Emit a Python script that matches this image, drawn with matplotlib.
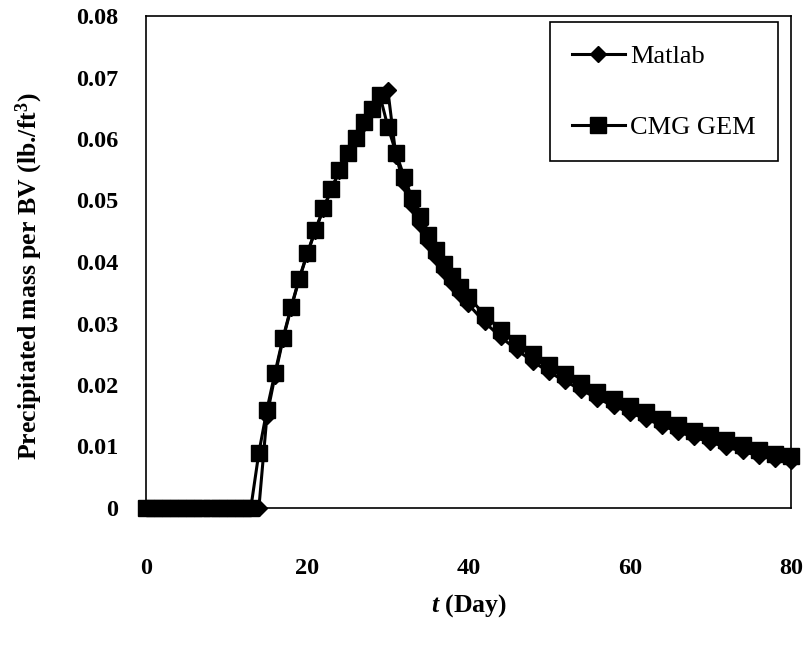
import matplotlib
matplotlib.use('Agg')
import matplotlib.pyplot as plt

plt.rcParams['font.family'] = ['Liberation Serif', 'DejaVu Serif']
plt.rcParams['mathtext.fontset'] = 'custom'
plt.rcParams['mathtext.it'] = 'Liberation Serif:italic:bold'
plt.rcParams['mathtext.rm'] = 'Liberation Serif:bold'

# time points (day): daily up to 40, then every 2 days
days = list(range(0, 41)) + list(range(42, 81, 2))

matlab = [0] * 15 + [
    0.0150, 0.0215, 0.0275, 0.0325, 0.0372, 0.0413, 0.0451, 0.0486,
    0.0518, 0.0548, 0.0577, 0.0601, 0.0626, 0.0648, 0.0668, 0.0679,
    0.0572, 0.0528, 0.0492, 0.0462, 0.0433, 0.0408, 0.0386, 0.0366,
    0.0348, 0.0331,
    0.0302, 0.0278, 0.0257, 0.0238, 0.0221, 0.0206, 0.0192, 0.0178,
    0.0166, 0.0155, 0.0145, 0.0134, 0.0124, 0.0115, 0.0107, 0.0099,
    0.0092, 0.0085, 0.0080, 0.0076]

cmg = [0] * 14 + [
    0.0090, 0.0160, 0.0220, 0.0277, 0.0327, 0.0373, 0.0414, 0.0452,
    0.0487, 0.0519, 0.0549, 0.0578, 0.0602, 0.0627, 0.0649, 0.0671,
    0.0620, 0.0578, 0.0539, 0.0504, 0.0475, 0.0444, 0.0420, 0.0397,
    0.0378, 0.0360, 0.0343,
    0.0314, 0.0290, 0.0269, 0.0250, 0.0232, 0.0218, 0.0203, 0.0189,
    0.0178, 0.0166, 0.0156, 0.0145, 0.0135, 0.0126, 0.0118, 0.0110,
    0.0102, 0.0094, 0.0088, 0.0085]

xticks = [0, 20, 40, 60, 80]
yticks = [0, 0.01, 0.02, 0.03, 0.04, 0.05, 0.06, 0.07, 0.08]
ytick_labels = ['0', '0.01', '0.02', '0.03', '0.04', '0.05', '0.06', '0.07', '0.08']

fig = plt.figure(figsize=(8.06, 6.53), dpi=100)
ax = fig.add_axes([146 / 806, 1 - 508 / 653, 645 / 806, 492 / 653])

ax.plot(days, matlab, color='black', lw=2.2, marker='D', ms=7.8,
        mew=1, clip_on=False, label='Matlab', zorder=3)
ax.plot(days, cmg, color='black', lw=2.2, marker='s', ms=11.5,
        mew=1, clip_on=False, label='CMG GEM', zorder=4)

ax.set_xlim(0, 80)
ax.set_ylim(0, 0.08)
ax.set_xticks(xticks)
ax.set_xticklabels([str(t) for t in xticks])
ax.set_yticks(yticks)
ax.set_yticklabels(ytick_labels)
ax.tick_params(length=0, labelsize=17.5)
ax.tick_params(axis='y', pad=20)
ax.tick_params(axis='x', pad=36)
for lab in ax.get_xticklabels() + ax.get_yticklabels():
    lab.set_fontweight('bold')
for sp in ax.spines.values():
    sp.set_linewidth(1.2)

ax.set_xlabel('$t$ (Day)', fontsize=18.5, fontweight='bold')
ax.set_ylabel('Precipitated mass per BV (lb./ft$^3$)', fontsize=18.5,
              fontweight='bold')
ax.xaxis.set_label_coords(0.5, -0.172)
ax.yaxis.set_label_coords(-0.156, 0.47)

leg = ax.legend(loc='upper right', bbox_to_anchor=(0.98, 0.988),
                borderaxespad=0, fontsize=19, numpoints=1, handlelength=2.0,
                handletextpad=0.2, labelspacing=1.8, borderpad=0.85,
                fancybox=False, framealpha=1, edgecolor='black')
leg.get_frame().set_linewidth(1.2)

fig.savefig('out.png', dpi=100)
